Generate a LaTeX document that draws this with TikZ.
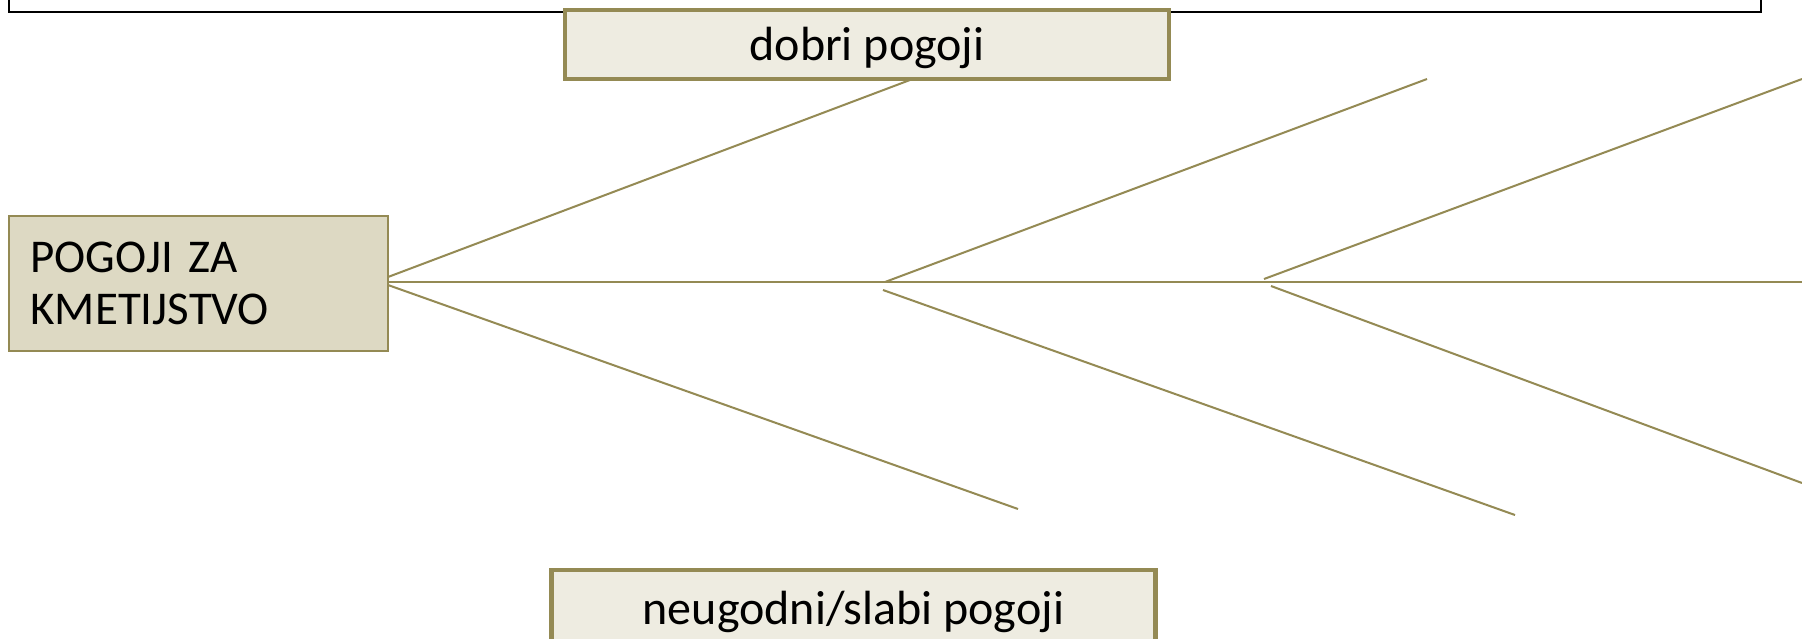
\documentclass[tikz,border=0pt]{standalone}
\usepackage{fontspec}
\setmainfont{Carlito}
\definecolor{olive}{HTML}{948A54}
\definecolor{paleFill}{HTML}{EEECE1}
\definecolor{tanFill}{HTML}{DDD9C3}
\begin{document}
\begin{tikzpicture}[x=1pt,y=-1pt,
  bone/.style={draw=olive,line width=2pt},
  labelbox/.style={draw=olive,fill=paleFill,line width=4.5pt,minimum width=604pt,inner sep=0pt,text height=40pt,text depth=8pt,font=\fontsize{48}{58}\selectfont},
  mainbox/.style={draw=olive,fill=tanFill,line width=1.5pt,minimum width=379pt,minimum height=135pt,text width=336pt,align=left,inner sep=0pt,font=\fontsize{47}{52}\selectfont}]
\useasboundingbox (0,0) rectangle (1802,638);
\clip (0,0) rectangle (1802,638);
\fill[white] (0,0) rectangle (1802,638);
% top frame
\node[draw=black,line width=2pt,minimum width=1752pt,minimum height=40pt,inner sep=0pt] (frame) at (885,-8.5) {};
% spine and bones
\coordinate (s0) at (388,281.5);
\coordinate (s1) at (1802,281.5);
\coordinate (u1a) at (388,277);  \coordinate (u1b) at (910,80);
\coordinate (u2a) at (885,282);  \coordinate (u2b) at (1427,79);
\coordinate (u3a) at (1264,279); \coordinate (u3b) at (1802,79);
\coordinate (l1a) at (388,285);  \coordinate (l1b) at (1018,509);
\coordinate (l2a) at (883,290);  \coordinate (l2b) at (1515,515);
\coordinate (l3a) at (1271,286); \coordinate (l3b) at (1802,483);
\draw[bone] (s0) -- (s1);
\draw[bone] (u1a) -- (u1b);
\draw[bone] (u2a) -- (u2b);
\draw[bone] (u3a) -- (u3b);
\draw[bone] (l1a) -- (l1b);
\draw[bone] (l2a) -- (l2b);
\draw[bone] (l3a) -- (l3b);
% boxes
\node[mainbox] (main) at (198.5,283.5) {POGOJI ZA\\KMETIJSTVO};
\node[labelbox,minimum height=69pt] (good) at (867,44.5) {dobri pogoji};
\node[labelbox,minimum height=76pt] (bad) at (853.5,608) {neugodni/slabi pogoji};
\end{tikzpicture}
\end{document}
